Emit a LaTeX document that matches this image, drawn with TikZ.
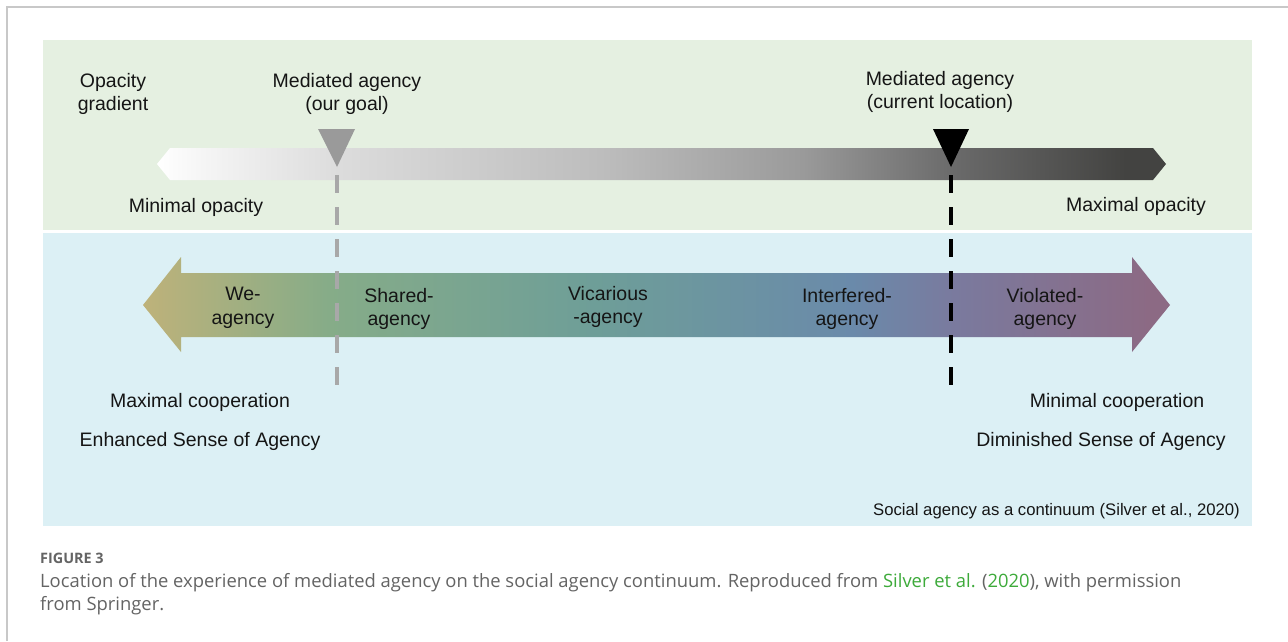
\documentclass[tikz,border=0pt]{standalone}
\usepackage{fontspec}
\setmainfont{Liberation Sans}
\newfontfamily\capfont{Open Sans}
\definecolor{frameC}{HTML}{C8C8C8}
\definecolor{panelG}{HTML}{E5F0E1}
\definecolor{panelB}{HTML}{DCF0F5}
\definecolor{txt}{HTML}{151515}
\definecolor{capgray}{HTML}{646464}
\definecolor{capgreen}{HTML}{3DAA3A}
\definecolor{goalgray}{HTML}{9A9A9A}
\definecolor{dashgray}{HTML}{A8A8A8}
\definecolor{aA}{HTML}{BEB27A}
\definecolor{aB}{HTML}{86AC88}
\definecolor{aC}{HTML}{6E9E98}
\definecolor{aD}{HTML}{6A8AAA}
\definecolor{aE}{HTML}{7A7A9E}
\definecolor{aF}{HTML}{8C6A84}
\definecolor{oA}{HTML}{FFFFFF}
\definecolor{oB}{HTML}{F6F6F6}
\definecolor{oC}{HTML}{DCDCDC}
\definecolor{oD}{HTML}{BDBDBD}
\definecolor{oE}{HTML}{9A9A9A}
\definecolor{oF}{HTML}{6A6A6A}
\definecolor{oG}{HTML}{434341}
\pgfdeclarehorizontalshading{agencyshade}{100bp}{color(0bp)=(aA); color(25bp)=(aA); color(34bp)=(aB); color(47bp)=(aC); color(59.5bp)=(aD); color(64.5bp)=(aE); color(74bp)=(aF); color(100bp)=(aF)}
\pgfdeclarehorizontalshading{opacityshade}{100bp}{color(0bp)=(oA); color(25bp)=(oA); color(27bp)=(oB); color(34bp)=(oC); color(47bp)=(oD); color(57bp)=(oE); color(64.5bp)=(oF); color(73bp)=(oG); color(100bp)=(oG)}
\tikzset{
  lbl/.style={text=txt, align=center, font=\fontsize{19.5}{23.5}\selectfont, inner sep=0pt},
  small/.style={text=txt, font=\fontsize{16.7}{19}\selectfont, inner sep=0pt},
  captext/.style={text=capgray, font=\capfont\fontsize{18.4}{23}\selectfont, inner sep=0pt, anchor=west},
  figlabel/.style={text=capgray, font=\capfont\bfseries\fontsize{14.4}{16}\selectfont, inner sep=0pt, anchor=west},
  dashline/.style={line width=4pt, dash pattern=on 18pt off 14pt},
}
\begin{document}
\begin{tikzpicture}[x=1pt,y=-1pt]
\useasboundingbox (0,0) rectangle (1288,641);
\fill[white] (0,0) rectangle (1288,641);
% frame
\draw[frameC, line width=1.5pt] (7,641) -- (7,7) -- (1288,7);
% panels
\fill[panelG] (43,40) rectangle (1252,230);
\fill[panelB] (43,233) rectangle (1252,526);
% opacity gradient arrow
\shade[shading=opacityshade] (170,148) -- (1153,148) -- (1166,164) -- (1153,180) -- (170,180) -- (157,164) -- cycle;
% agency arrow
\shade[shading=agencyshade] (181,273) -- (1132,273) -- (1132,257) -- (1170,305) -- (1132,352) -- (1132,337) -- (181,337) -- (181,352) -- (143,305) -- (181,257) -- cycle;
% markers
\fill[goalgray] (318,129) -- (355,129) -- (337,167) -- cycle;
\fill[black] (933,129) -- (969,129) -- (951,167) -- cycle;
\coordinate (goalTop) at (337,175);
\coordinate (goalEnd) at (337,385);
\coordinate (curTop) at (951,175);
\coordinate (curEnd) at (951,385);
\draw[dashline, dashgray] (goalTop) -- (goalEnd);
\draw[dashline, black] (curTop) -- (curEnd);
% labels top
\node[lbl] (opgrad) at (113,94) {Opacity\\gradient};
\node[lbl] (goal) at (347,94) {Mediated agency\\(our goal)};
\node[lbl] (cur) at (940,92) {Mediated agency\\(current location)};
\node[lbl] (minop) at (196,207.5) {Minimal opacity};
\node[lbl] (maxop) at (1136,206.5) {Maximal opacity};
% labels in arrow
\node[lbl] (we) at (243,308) {We-\\agency};
\node[lbl] (shared) at (399,309) {Shared-\\agency};
\node[lbl] (vic) at (608,307) {Vicarious\\-agency};
\node[lbl] (inter) at (847,309) {Interfered-\\agency};
\node[lbl] (viol) at (1045,309) {Violated-\\agency};
% bottom labels
\node[lbl] (maxcoop) at (200,402.5) {Maximal cooperation};
\node[lbl] (enh) at (200,441.5) {Enhanced Sense of Agency};
\node[lbl] (mincoop) at (1117,402.5) {Minimal cooperation};
\node[lbl] (dim) at (1101,441.5) {Diminished Sense of Agency};
\node[small, anchor=east] (src) at (1240,511.5) {Social agency as a continuum (Silver et al., 2020)};
% caption
\node[figlabel] (fig) at (40,558) {FIGURE 3};
\node[captext] (cap1) at (40,583) {Location of the experience of mediated agency on the social agency continuum. Reproduced from \textcolor{capgreen}{Silver et al.} (\textcolor{capgreen}{2020}), with permission};
\node[captext] (cap2) at (40,606) {from Springer.};
\end{tikzpicture}
\end{document}
